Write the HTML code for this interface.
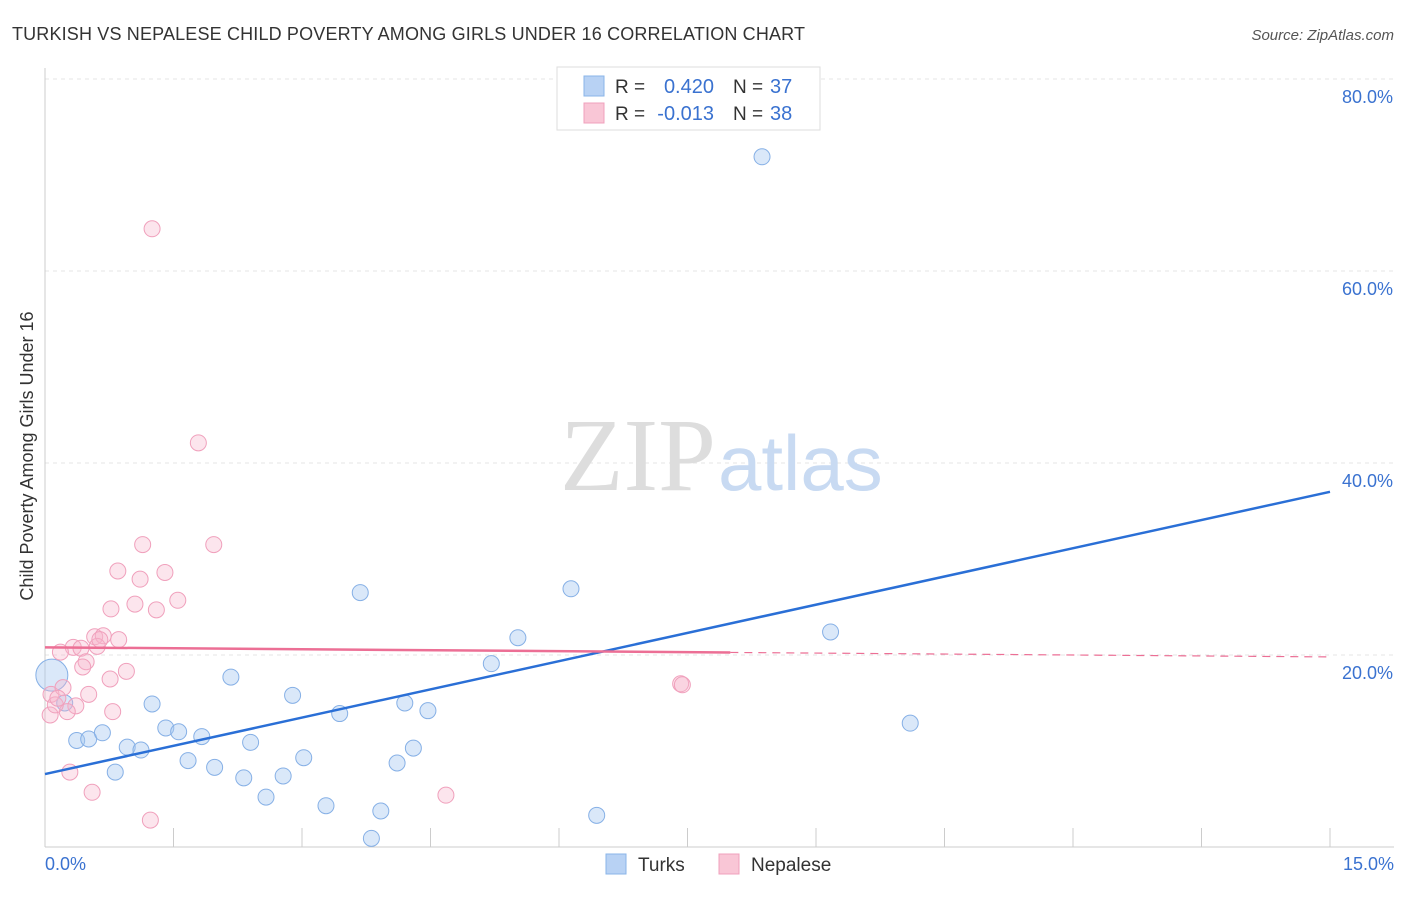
<!DOCTYPE html>
<html><head><meta charset="utf-8"><style>
body{margin:0;background:#fff;font-family:"Liberation Sans",sans-serif;}
</style></head><body>
<svg width="1406" height="892" xmlns="http://www.w3.org/2000/svg" font-family="Liberation Sans, sans-serif">
<text x="12" y="40" font-size="18" fill="#333" textLength="793">TURKISH VS NEPALESE CHILD POVERTY AMONG GIRLS UNDER 16 CORRELATION CHART</text>
<text x="1394" y="40" font-size="15" fill="#555" font-style="italic" text-anchor="end">Source: ZipAtlas.com</text>
<g id="grid"></g>
<text x="716" y="490" font-size="104" fill="#ddd" text-anchor="end" font-family="Liberation Serif, serif">ZIP</text>
<text x="718" y="490" font-size="78" fill="#c8daf2">atlas</text>
<line x1="45" y1="68" x2="45" y2="847" stroke="#ccc"/>
<line x1="45" y1="847" x2="1394" y2="847" stroke="#ccc"/>
<g id="xticks"></g>
<g id="ylabels"></g>
<text x="45" y="870" font-size="18" fill="#3a72d0">0.0%</text>
<text x="1394" y="870" font-size="18" fill="#3a72d0" text-anchor="end">15.0%</text>
<text transform="translate(33,456) rotate(-90)" font-size="18" fill="#333" text-anchor="middle">Child Poverty Among Girls Under 16</text>
<g id="pts"></g>
<g id="lines"></g>
<g>
<rect x="557" y="67" width="263" height="63" fill="#fff" stroke="#ddd"/>
<rect x="584" y="76" width="20" height="20" fill="#b8d2f4" stroke="#8ab4e8"/>
<rect x="584" y="103" width="20" height="20" fill="#f9c6d6" stroke="#f0a0bc"/>
<text x="615" y="93" font-size="19" fill="#333">R =</text>
<text x="714" y="93" font-size="20" fill="#3a72d0" text-anchor="end">0.420</text>
<text x="733" y="93" font-size="19" fill="#333">N =</text>
<text x="770" y="93" font-size="20" fill="#3a72d0">37</text>
<text x="615" y="120" font-size="19" fill="#333">R =</text>
<text x="714" y="120" font-size="20" fill="#3a72d0" text-anchor="end">-0.013</text>
<text x="733" y="120" font-size="19" fill="#333">N =</text>
<text x="770" y="120" font-size="20" fill="#3a72d0">38</text>
</g>
<g><rect x="606" y="854" width="20" height="20" fill="#b8d2f4" stroke="#8ab4e8"/><text x="638" y="871" font-size="19" fill="#333">Turks</text></g>
<g><rect x="719" y="854" width="20" height="20" fill="#f9c6d6" stroke="#f0a0bc"/><text x="751" y="871" font-size="19" fill="#333">Nepalese</text></g>
</svg>
<script>
const yTicks=[20,40,60,80];
const xTickVals=[0,1.5,3,4.5,6,7.5,9,10.5,12,13.5,15];
const turksX=[8.37,6.14,3.68,5.52,9.17,5.21,2.17,2.89,1.25,3.44,4.20,4.47,10.10,1.41,1.56,1.83,0.37,0.51,0.67,0.96,1.12,2.40,4.30,1.67,1.98,3.02,4.11,0.82,2.32,2.78,2.58,3.28,3.92,6.44,3.81,0.08,0.23];
const turksY=[71.9,26.9,26.5,21.8,22.4,19.1,17.7,15.8,14.9,13.9,15.0,14.2,12.9,12.4,12.0,11.5,11.1,11.25,11.9,10.4,10.1,10.9,10.3,9.0,8.3,9.3,8.75,7.8,7.2,7.4,5.2,4.3,3.75,3.3,0.9,17.9,15.0];
const nepX=[1.25,1.79,1.14,1.97,0.85,1.40,1.11,1.55,0.77,1.05,1.30,0.58,0.68,0.86,0.33,0.42,0.18,0.61,0.48,0.44,0.95,0.76,0.51,0.07,0.21,0.36,0.26,0.79,0.06,7.42,7.44,0.29,0.55,4.68,1.23,0.12,0.64,0.15];
const nepY=[64.4,42.1,31.5,31.5,28.75,28.6,27.9,25.7,24.8,25.3,24.7,21.9,22.0,21.6,20.8,20.7,20.3,20.9,19.3,18.75,18.3,17.5,15.9,15.9,16.6,14.7,14.1,14.1,13.75,17.0,16.9,7.8,5.7,5.4,2.8,14.8,21.6,15.5];
const turksTrend=[7.6,37.0];
const nepTrend=[20.8,19.8];
const X=v=>45+v*(1285/15), Y=v=>847-v*9.6;
const NS="http://www.w3.org/2000/svg";
function mk(p,t,a){const e=document.createElementNS(NS,t);for(const k in a)e.setAttribute(k,a[k]);p.appendChild(e);return e;}
const grid=document.getElementById('grid'),yl=document.getElementById('ylabels'),xt=document.getElementById('xticks');
yTicks.forEach(v=>{const l=mk(grid,'line',{x1:45,x2:1394,y1:Y(v),y2:Y(v),stroke:'#e4e4e4','stroke-dasharray':'4,4'});


const t=mk(yl,'text',{x:1393,y:Y(v)+24,'font-size':18,fill:'#3a72d0','text-anchor':'end'});t.textContent=v.toFixed(1)+'%';

});
xTickVals.forEach(v=>{const l=mk(xt,'line',{x1:X(v),x2:X(v),y1:828,y2:847,stroke:'#ccc'});

});
const pts=document.getElementById('pts');
turksX.forEach((x,i)=>{const c=mk(pts,'circle',{cx:X(x),cy:Y(turksY[i]),r:i==35?16:8,fill:'rgba(168,200,240,0.42)',stroke:'#86b0e6','stroke-width':1});

});
nepX.forEach((x,i)=>{const c=mk(pts,'circle',{cx:X(x),cy:Y(nepY[i]),r:8,fill:'rgba(247,180,202,0.35)',stroke:'#f0a0bc','stroke-width':1});

});
const ln=document.getElementById('lines');
const bl=mk(ln,'line',{x1:X(0),y1:Y(turksTrend[0]),x2:X(15),y2:Y(turksTrend[1]),stroke:'#2a6fd6','stroke-width':2.5});


const yAt=x=>nepTrend[0]+(nepTrend[1]-nepTrend[0])*x/15;
const p1=mk(ln,'line',{x1:X(0),y1:Y(nepTrend[0]),x2:X(8),y2:Y(yAt(8)),stroke:'#ec6f95','stroke-width':2.5});


const p2=mk(ln,'line',{x1:X(8),y1:Y(yAt(8)),x2:X(15),y2:Y(nepTrend[1]),stroke:'#ec6f95','stroke-width':1.2,'stroke-dasharray':'8,6'});


</script>
</body></html>
